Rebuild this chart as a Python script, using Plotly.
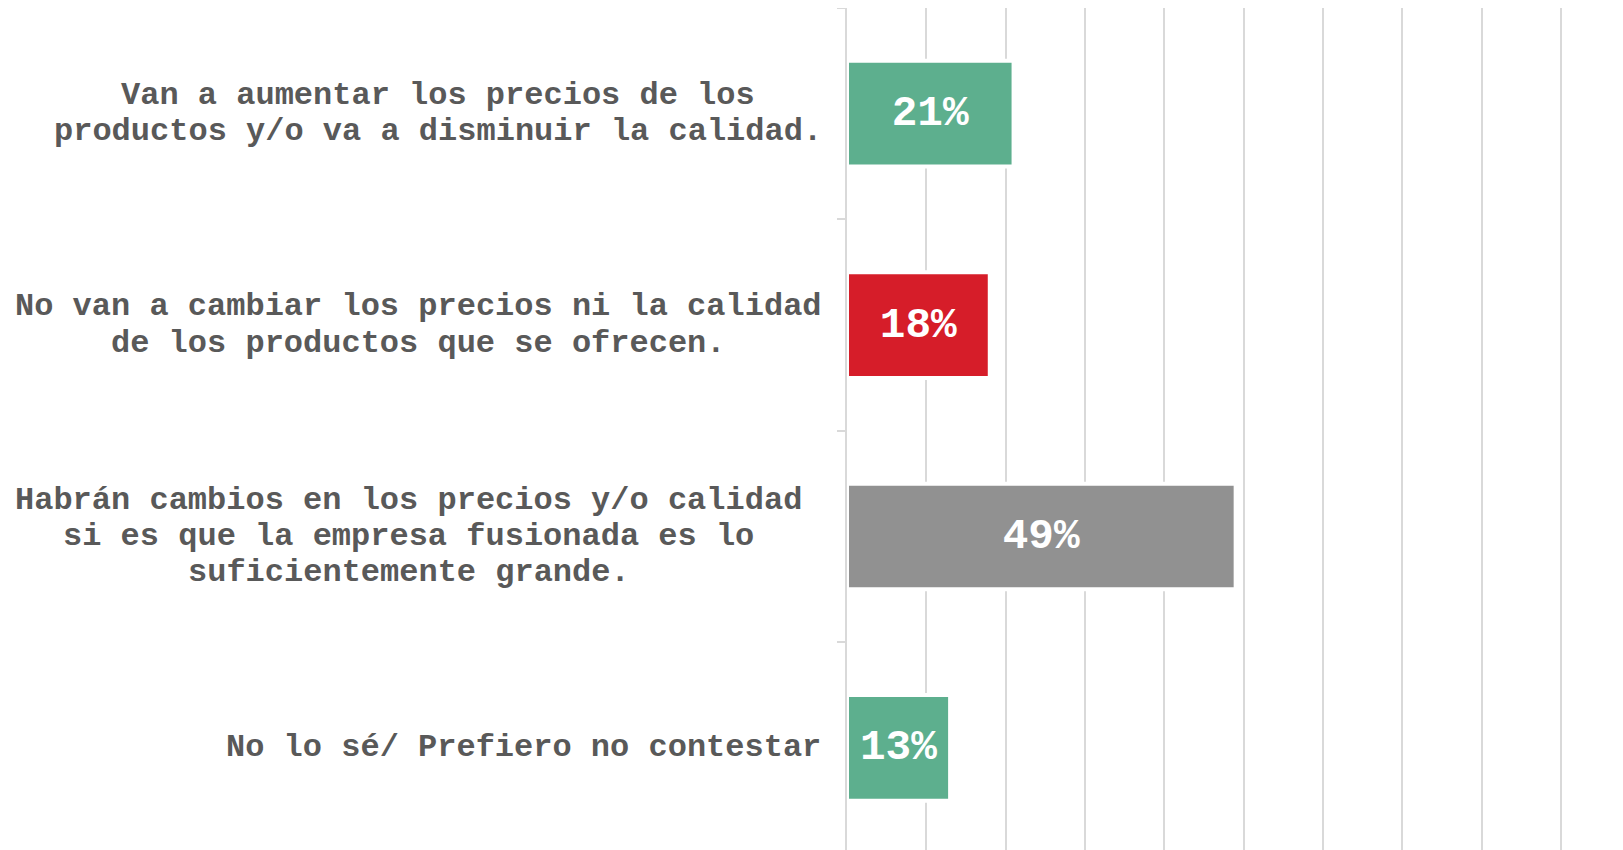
import plotly.graph_objects as go

# ---- data ----
labels = [
    "Van a aumentar los precios de los\nproductos y/o va a disminuir la calidad.",
    "No van a cambiar los precios ni la calidad\nde los productos que se ofrecen.",
    "Habrán cambios en los precios y/o calidad  \nsi es que la empresa fusionada es lo\nsuficientemente grande.",
    "No lo sé/ Prefiero no contestar",
]
values = [21, 18, 49, 13]
colors = ["#5DAF8E", "#D61D29", "#919191", "#5DAF8E"]

# ---- style ----
FONT = "Courier New, Liberation Mono, monospace"
LABEL_SIZE = 32
LINE_H = 36.3
ADV = 0.6 * LABEL_SIZE
GAP = 25.5
TEXT_COLOR = "#595959"
GRID = "#d9d9d9"

keys = [" ".join(l.strip() for l in lab.split("\n")) for lab in labels]

fig = go.Figure(
    go.Bar(
        x=values,
        y=keys,
        orientation="h",
        marker=dict(color=colors, line=dict(color="white", width=4)),
        texttemplate="%{x}%",
        textposition="inside",
        insidetextanchor="middle",
        textangle=0,
        constraintext="none",
        textfont=dict(family=FONT, size=42.7, color="white", weight="bold"),
        hoverinfo="skip",
    )
)

annotations = []
for key, lab in zip(keys, labels):
    lines = lab.split("\n")
    maxlen = max(len(l) for l in lines)
    n = len(lines)
    for i, line in enumerate(lines):
        annotations.append(
            dict(
                xref="paper", x=0, yref="y", y=key,
                text=line.strip(), showarrow=False,
                xanchor="center", yanchor="middle",
                xshift=-GAP - maxlen * ADV / 2,
                yshift=((n - 1) / 2 - i) * LINE_H,
                font=dict(family=FONT, size=LABEL_SIZE, color=TEXT_COLOR, weight="bold"),
            )
        )

# the page body adds an 8px offset on the left and top
fig.update_layout(
    width=1615, height=842,
    margin=dict(l=839, r=55, t=0, b=0),
    paper_bgcolor="white", plot_bgcolor="white",
    bargap=0.5,
    showlegend=False,
    annotations=annotations,
    xaxis=dict(
        range=[0, 90.9], dtick=10, showticklabels=False, ticks="",
        showgrid=True, gridcolor=GRID, gridwidth=1.8,
        zeroline=False, showline=False, fixedrange=True,
    ),
    yaxis=dict(
        type="category", categoryorder="array", categoryarray=keys,
        range=[3.483, -0.5], showticklabels=False,
        ticks="outside", ticklen=8, tickwidth=1.8, tickcolor=GRID,
        tickson="boundaries",
        showline=True, linecolor=GRID, linewidth=1.8,
        showgrid=False, zeroline=False, layer="above traces", fixedrange=True,
    ),
)

fig.write_html("out.html", config={"displayModeBar": False})
